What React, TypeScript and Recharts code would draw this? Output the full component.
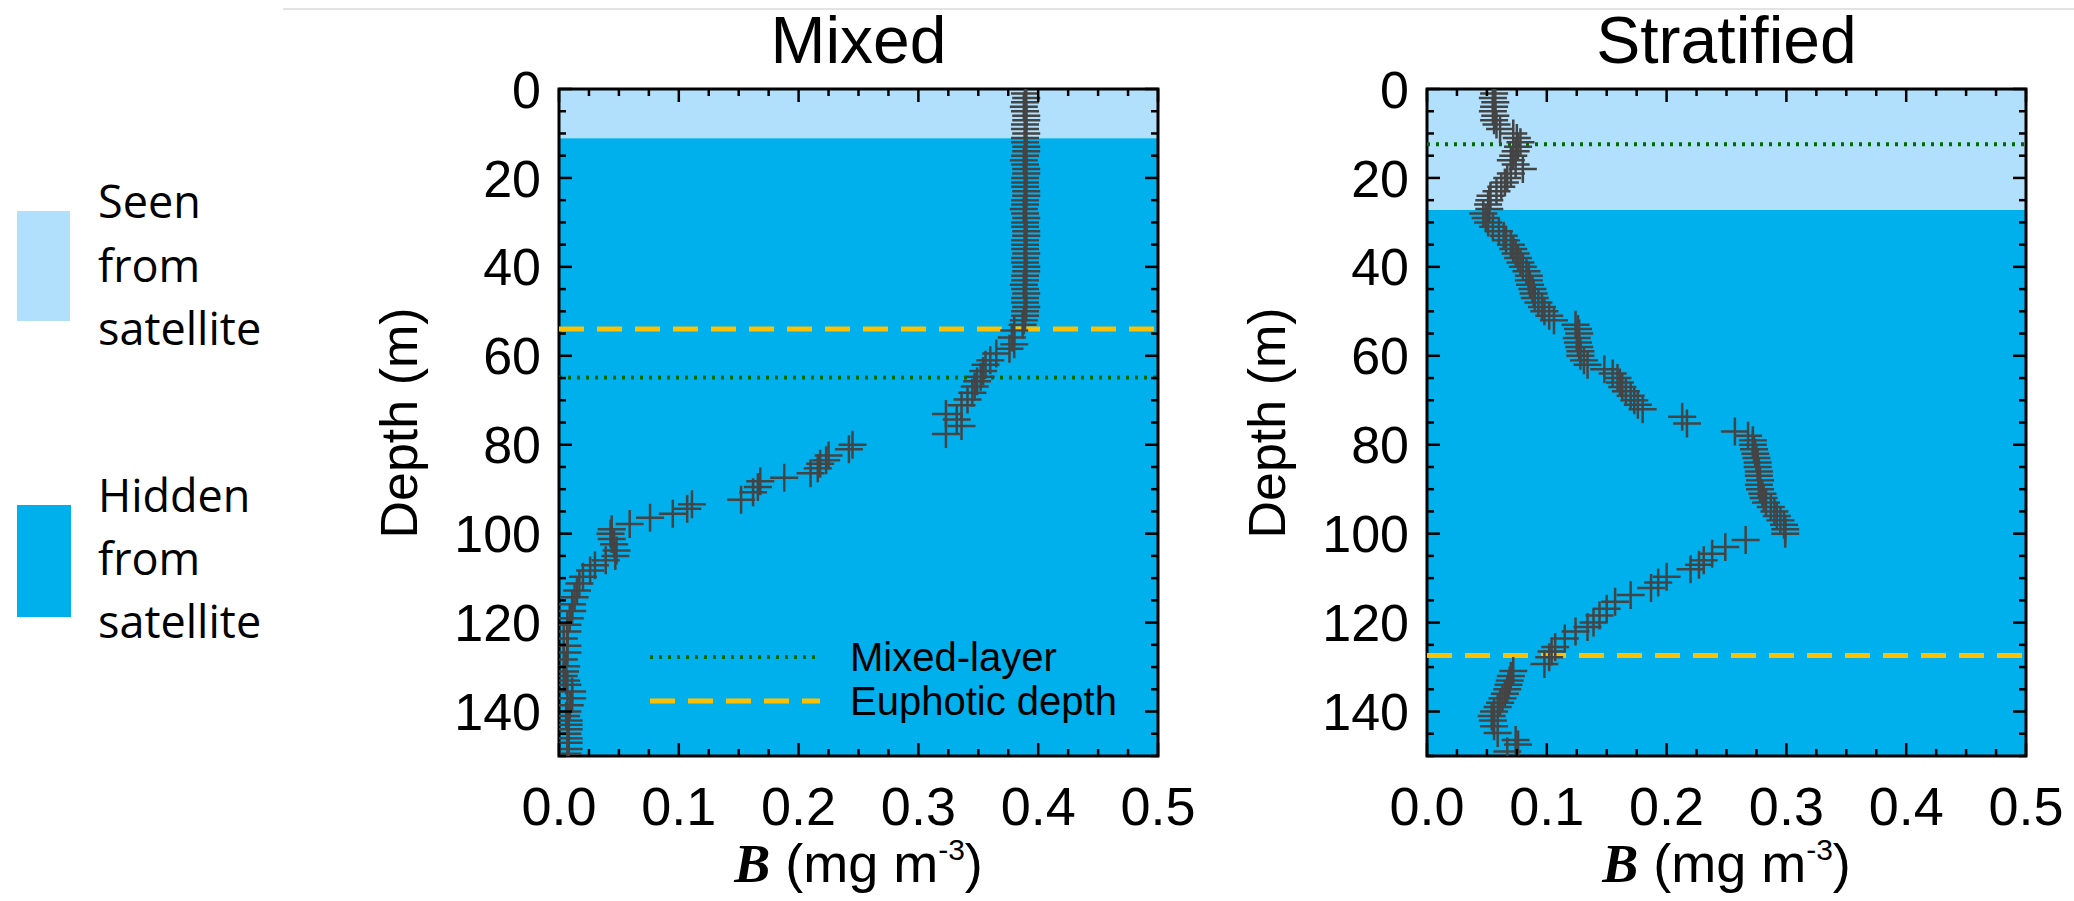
import React from 'react';
import { ScatterChart, Scatter, XAxis, YAxis, ReferenceArea, ReferenceLine, Legend } from 'recharts';

// --- data ---
const MIXED_DEPTH = [
  1, 2, 3, 4, 5, 6, 7, 8, 9, 10,
  11, 12, 13, 14, 15, 16, 17, 18, 19, 20,
  21, 22, 23, 24, 25, 26, 27, 28, 29, 30,
  31, 32, 33, 34, 35, 36, 37, 38, 39, 40,
  41, 42, 43, 44, 45, 46, 47, 48, 49, 50,
  51, 52, 53,
  54.3, 55.9, 57.4, 58.4, 59.5, 61, 62, 63.4, 64.7, 65.7,
  66.9, 68.3, 69.8, 71.1, 73.1, 74.3, 75.8, 77.6, 80, 81,
  82.4, 83.5, 84.3, 85.3, 86.4, 87.4, 88.2, 89.5, 90.7, 92.4,
  93.4, 94.4, 95.5, 96.4, 97.8, 99, 100, 101.2, 102.4, 103.8,
  105, 106, 107.1, 108.3, 109.7, 111.2, 112.8, 114.3, 115.9, 117.4,
  119, 120.5, 122, 123.6, 125.2, 126.7, 128.3, 129.8, 131, 132,
  133, 134, 135.5, 137, 138.6, 140, 141, 142, 143, 144,
  145, 146, 147, 148.4, 149.5,
];
const MIXED_B = [
  0.389, 0.39, 0.389, 0.388, 0.389, 0.39, 0.39, 0.389, 0.389, 0.39,
  0.389, 0.389, 0.39, 0.39, 0.389, 0.388, 0.389, 0.39, 0.39, 0.389,
  0.389, 0.389, 0.39, 0.39, 0.389, 0.389, 0.388, 0.389, 0.39, 0.389,
  0.389, 0.39, 0.39, 0.389, 0.389, 0.389, 0.39, 0.389, 0.389, 0.39,
  0.39, 0.389, 0.389, 0.388, 0.389, 0.39, 0.389, 0.389, 0.39, 0.389,
  0.389, 0.388, 0.387,
  0.38, 0.378, 0.38, 0.376, 0.365, 0.36, 0.356, 0.354, 0.352, 0.349,
  0.347, 0.345, 0.341, 0.336, 0.323, 0.332, 0.336, 0.323, 0.245, 0.242,
  0.225, 0.223, 0.218, 0.216, 0.21, 0.188, 0.168, 0.166, 0.162, 0.152,
  0.111, 0.107, 0.095, 0.076, 0.059, 0.044, 0.043, 0.044, 0.046, 0.048,
  0.047, 0.039, 0.03, 0.026, 0.02, 0.017, 0.015, 0.013, 0.011, 0.011,
  0.009, 0.007, 0.007, 0.004, 0.007, 0.007, 0.004, 0.006, 0.005, 0.004,
  0.006, 0.007, 0.011, 0.011, 0.009, 0.007, 0.006, 0.008, 0.008, 0.008,
  0.007, 0.008, 0.008, 0.008, 0.007,
];

const STRAT_DEPTH = [
  1, 2, 3, 4, 5, 6, 7, 8, 9, 10,
  11, 12, 13, 14, 15, 16, 17, 18, 19, 20,
  21, 22, 23, 24, 25, 26, 27, 28, 29, 30,
  31, 32, 33, 34, 35, 36, 37, 38, 39, 40,
  41, 42, 43, 44, 45, 46, 47, 48, 49, 50,
  51, 52, 53, 54, 55, 56, 57, 58, 59, 60,
  61, 62, 63, 64, 65, 66, 67, 68, 69, 70,
  71, 72, 73.7, 75.2, 77, 78, 79, 80, 81, 82,
  83, 84, 85, 86, 87, 88, 89, 90, 91, 92,
  93, 94, 95, 96, 97, 98, 99, 100, 101.4, 103,
  104.5, 106, 107, 108, 109.7, 111, 112.2, 113.8, 115.3, 116.9,
  118.4, 120, 121, 122, 123.6, 125.5, 126.5, 127.8, 129.3, 130.9,
  132, 133, 134, 135, 136, 137, 138, 139, 140, 141,
  142, 143.3, 144.8, 146.4, 147.4, 149,
];
const STRAT_B = [
  0.056, 0.055, 0.057, 0.056, 0.055, 0.057, 0.056, 0.058, 0.061, 0.072,
  0.075, 0.078, 0.076, 0.074, 0.072, 0.07, 0.074, 0.08, 0.07, 0.067,
  0.065, 0.062, 0.058, 0.053, 0.052, 0.051, 0.052, 0.047, 0.049, 0.051,
  0.055, 0.06, 0.064, 0.066, 0.07, 0.072, 0.074, 0.076, 0.078, 0.08,
  0.083, 0.085, 0.085, 0.086, 0.088, 0.089, 0.09, 0.093, 0.096, 0.098,
  0.102, 0.106, 0.124, 0.126, 0.127, 0.125, 0.126, 0.127, 0.128, 0.128,
  0.131, 0.134, 0.148, 0.155, 0.159, 0.161, 0.163, 0.166, 0.17, 0.173,
  0.176, 0.18, 0.213, 0.217, 0.257, 0.268, 0.272, 0.272, 0.273, 0.274,
  0.275, 0.276, 0.276, 0.277, 0.277, 0.278, 0.277, 0.278, 0.28, 0.281,
  0.283, 0.287, 0.29, 0.292, 0.295, 0.298, 0.299, 0.299, 0.266, 0.249,
  0.238, 0.231, 0.227, 0.22, 0.2, 0.193, 0.187, 0.17, 0.157, 0.15,
  0.144, 0.139, 0.134, 0.124, 0.115, 0.107, 0.104, 0.102, 0.098, 0.072,
  0.07, 0.069, 0.068, 0.067, 0.065, 0.063, 0.061, 0.059, 0.056, 0.054,
  0.055, 0.056, 0.059, 0.074, 0.076, 0.067,
];

const PANELS = ['Mixed', 'Stratified'];
const SEEN_LIMIT = [11.1, 27.2];      // bottom of the "seen from satellite" layer (m)
const MIXED_LAYER = [64.9, 12.4];     // mixed-layer depth (m)
const EUPHOTIC = [54.0, 127.4];       // euphotic depth (m)

const X_TICKS = [
  0, 0.025, 0.05, 0.075, 0.1, 0.125, 0.15, 0.175, 0.2, 0.225, 0.25,
  0.275, 0.3, 0.325, 0.35, 0.375, 0.4, 0.425, 0.45, 0.475, 0.5,
];
const Y_TICKS = [
  0, 5, 10, 15, 20, 25, 30, 35, 40, 45, 50, 55, 60, 65, 70, 75,
  80, 85, 90, 95, 100, 105, 110, 115, 120, 125, 130, 135, 140, 145, 150,
];

const COLORS = {
  seen: '#b0e0fb',
  hidden: '#00b0ec',
  marker: '#444444',
  mixed: '#006b00',
  euphotic: '#ffc000',
};

const SANS = '"Liberation Sans", Arial, Helvetica, sans-serif';

// plot box inside each chart svg
const CHART_W = 900;
const CHART_H = 901;
const PLOT_L = 259;
const PLOT_R = 858;
const PLOT_T = 89;
const PLOT_B = 756;

const makeDepthTick = () => (props: any) => {
  const { y, payload } = props;
  const v = payload.value;
  const major = v % 20 === 0;
  const len = major ? 13 : 7;
  return (
    <g>
      <line x1={PLOT_L} x2={PLOT_L + len} y1={y} y2={y} stroke="#000" strokeWidth={2.5} />
      <line x1={PLOT_R - len} x2={PLOT_R} y1={y} y2={y} stroke="#000" strokeWidth={2.5} />
      {major && (
        <text x={PLOT_L - 18} y={y + 18.6} textAnchor="end" fontSize={52} fontFamily={SANS} fill="#000">
          {v}
        </text>
      )}
    </g>
  );
};

const makeBTick = () => (props: any) => {
  const { x, payload } = props;
  const v = payload.value;
  const major = Math.abs(v * 10 - Math.round(v * 10)) < 1e-6;
  const len = major ? 13 : 7;
  return (
    <g>
      <line x1={x} x2={x} y1={PLOT_B} y2={PLOT_B - len} stroke="#000" strokeWidth={2.5} />
      <line x1={x} x2={x} y1={PLOT_T} y2={PLOT_T + len} stroke="#000" strokeWidth={2.5} />
      {major && (
        <text x={x} y={PLOT_B + 69} textAnchor="middle" fontSize={54} fontFamily={SANS} fill="#000">
          {v.toFixed(1)}
        </text>
      )}
    </g>
  );
};

const Cross = (props: any) => {
  const { cx, cy } = props;
  if (cx == null || cy == null) return <g />;
  return (
    <path
      d={`M${cx - 14},${cy}h28M${cx},${cy - 14}v28`}
      stroke={COLORS.marker}
      strokeWidth={2.5}
      fill="none"
    />
  );
};

const LineLegend = () => (
  <svg width={480} height={100}>
    <line x1={10} x2={180} y1={27} y2={27} stroke={COLORS.mixed} strokeWidth={4} strokeDasharray="3 6" />
    <line x1={10} x2={180} y1={71} y2={71} stroke={COLORS.euphotic} strokeWidth={5} strokeDasharray="25 13" />
    <text x={210} y={41} fontSize={40} fontFamily={SANS} fill="#000">Mixed-layer</text>
    <text x={210} y={85} fontSize={40} fontFamily={SANS} fill="#000">Euphotic depth</text>
  </svg>
);

const ProfilePanel: React.FC<{ index: number; left: number; showLegend?: boolean }> = ({ index, left, showLegend }) => {
  const depth = index === 0 ? MIXED_DEPTH : STRAT_DEPTH;
  const vals = index === 0 ? MIXED_B : STRAT_B;
  const data = depth.map((d, i) => ({ depth: d, b: vals[i] }));
  const cx = (PLOT_L + PLOT_R) / 2;

  return (
    <div style={{ position: 'absolute', left, top: 0, width: CHART_W, height: CHART_H }}>
      <ScatterChart width={CHART_W} height={CHART_H} margin={{ top: PLOT_T, right: CHART_W - PLOT_R, bottom: 0, left: 0 }}>
        <ReferenceArea y1={0} y2={SEEN_LIMIT[index]} fill={COLORS.seen} fillOpacity={1} stroke="none" />
        <ReferenceArea y1={SEEN_LIMIT[index]} y2={150} fill={COLORS.hidden} fillOpacity={1} stroke="none" />
        <ReferenceLine y={MIXED_LAYER[index]} stroke={COLORS.mixed} strokeWidth={4} strokeDasharray="3 6" />
        <ReferenceLine y={EUPHOTIC[index]} stroke={COLORS.euphotic} strokeWidth={5} strokeDasharray="25 13" />
        <XAxis
          type="number"
          dataKey="b"
          domain={[0, 0.5]}
          ticks={X_TICKS}
          interval={0}
          allowDataOverflow
          axisLine={false}
          tickLine={false}
          height={CHART_H - PLOT_B}
          tick={makeBTick()}
          label={{
            content: () => (
              <text x={cx} y={882} textAnchor="middle" fontSize={54} fontFamily={SANS} fill="#000">
                <tspan fontFamily='"Liberation Serif", "Times New Roman", serif' fontWeight="bold" fontStyle="italic">B</tspan>
                <tspan> (mg m</tspan>
                <tspan dy={-22} fontSize={30}>-3</tspan>
                <tspan dy={22}>)</tspan>
              </text>
            ),
          }}
        />
        <YAxis
          type="number"
          dataKey="depth"
          domain={[0, 150]}
          reversed
          ticks={Y_TICKS}
          interval={0}
          allowDataOverflow
          axisLine={false}
          tickLine={false}
          width={PLOT_L}
          tick={makeDepthTick()}
          label={{
            content: () => (
              <text
                x={98}
                y={423}
                dy={18.6}
                transform="rotate(-90 98 423)"
                textAnchor="middle"
                fontSize={52}
                fontFamily={SANS}
                fill="#000"
              >
                Depth (m)
              </text>
            ),
          }}
        />
        <Scatter data={data} shape={Cross} isAnimationActive={false} />
        <ReferenceArea x1={0} x2={0.5} y1={0} y2={150} fill="none" stroke="#000" strokeWidth={3} />
        {showLegend && (
          <Legend
            layout="vertical"
            align="center"
            verticalAlign="middle"
            content={() => <LineLegend />}
            wrapperStyle={{ left: 340, top: 630, width: 480, height: 100 }}
          />
        )}
      </ScatterChart>
    </div>
  );
};

export default function App() {
  return (
    <div style={{ position: 'absolute', left: 0, top: 0, width: 2074, height: 901, background: '#fff', overflow: 'hidden' }}>
      <svg width={2074} height={901} style={{ position: 'absolute', left: 0, top: 0 }}>
        <line x1={283} x2={2074} y1={9} y2={9} stroke="#e3e3e3" strokeWidth={2} />
        <rect x={17} y={211} width={53} height={110} fill={COLORS.seen} />
        <rect x={17} y={505} width={54} height={112} fill={COLORS.hidden} />
        <g fontFamily='"Open Sans", "Noto Sans", sans-serif' fontSize={45} fill="#000">
          <text x={98} y={218}>Seen</text>
          <text x={98} y={282}>from</text>
          <text x={98} y={345}>satellite</text>
          <text x={98} y={512}>Hidden</text>
          <text x={98} y={575}>from</text>
          <text x={98} y={638}>satellite</text>
        </g>
        <g fontFamily={SANS} fontSize={66} fill="#000" textAnchor="middle">
          <text x={858.5} y={63}>{PANELS[0]}</text>
          <text x={1726.5} y={63}>{PANELS[1]}</text>
        </g>
      </svg>
      <ProfilePanel index={0} left={300} showLegend />
      <ProfilePanel index={1} left={1168} />
    </div>
  );
}
